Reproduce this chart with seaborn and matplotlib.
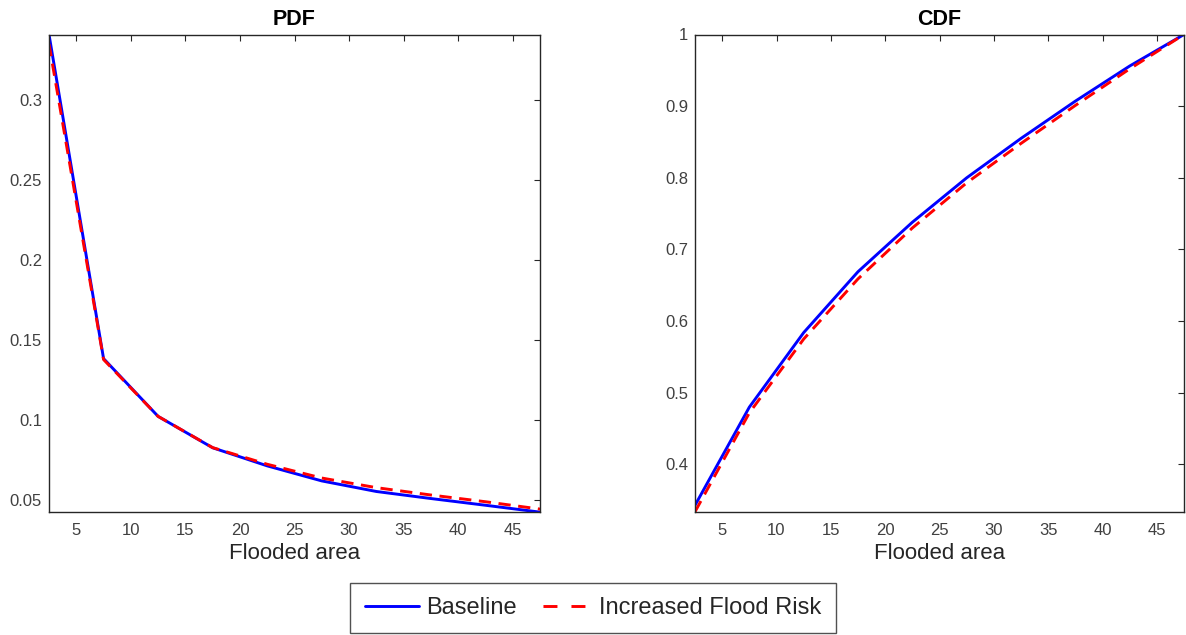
"""PDF / CDF comparison of flooded area, baseline vs increased flood risk."""

import matplotlib
matplotlib.use("Agg")
import matplotlib.pyplot as plt
from matplotlib.lines import Line2D
from matplotlib.ticker import FuncFormatter
import seaborn as sns
import pandas as pd

# Flooded area bin centres
area = [2.5, 7.5, 12.5, 17.5, 22.5, 27.5, 32.5, 37.5, 42.5, 47.5]

# PDF values
pdf_baseline = [0.341, 0.1386, 0.1025, 0.0829, 0.0716, 0.0622, 0.0556, 0.0512, 0.0470, 0.0427]
pdf_increased = [0.335, 0.138, 0.1025, 0.083, 0.0726, 0.0640, 0.0580, 0.0534, 0.0492, 0.0446]

# CDF values
cdf_baseline = [0.343, 0.480, 0.584, 0.669, 0.738, 0.800, 0.855, 0.907, 0.956, 1.0]
cdf_increased = [0.334, 0.472, 0.575, 0.659, 0.730, 0.793, 0.848, 0.901, 0.952, 1.0]

series_names = ["Baseline", "Increased Flood Risk"]
colors = {"Baseline": "#0000ff", "Increased Flood Risk": "#ff0000"}
red_dash = (0, (4.2, 2.6))

sns.set_style("white")
plt.rcParams["font.family"] = ["Liberation Sans", "DejaVu Sans"]

fig = plt.figure(figsize=(11.86, 6.35), dpi=100)
ax1 = fig.add_axes([49 / 1186, (635 - 511.5) / 635, 491 / 1186, 477 / 635])
ax2 = fig.add_axes([695 / 1186, (635 - 511.5) / 635, 489 / 1186, 477 / 635])

pdf_df = pd.DataFrame({"area": area, "Baseline": pdf_baseline,
                       "Increased Flood Risk": pdf_increased})
cdf_df = pd.DataFrame({"area": area, "Baseline": cdf_baseline,
                       "Increased Flood Risk": cdf_increased})


def draw_panel(ax, df, title, ylim, yticks):
    sns.lineplot(data=df, x="area", y="Baseline", ax=ax,
                 color=colors["Baseline"], linewidth=2.1)
    sns.lineplot(data=df, x="area", y="Increased Flood Risk", ax=ax,
                 color=colors["Increased Flood Risk"], linewidth=2.1,
                 linestyle=red_dash)
    ax.set_xlim(2.5, 47.5)
    ax.set_ylim(*ylim)
    ax.set_xticks(range(5, 50, 5))
    ax.set_yticks(yticks)
    ax.yaxis.set_major_formatter(FuncFormatter(lambda v, p: f"{v:g}"))
    ax.set_title(title, fontsize=15.5, fontweight="bold", color="black", pad=7)
    ax.set_xlabel("Flooded area", fontsize=16, color="#262626", labelpad=4)
    ax.set_ylabel("")
    ax.tick_params(axis="both", which="both", direction="in", length=4.5,
                   width=0.8, color="#262626", labelsize=12,
                   labelcolor="#404040", top=True, right=True)
    ax.tick_params(axis="x", pad=8)
    ax.tick_params(axis="y", pad=5)
    for spine in ax.spines.values():
        spine.set_visible(True)
        spine.set_color("#262626")
        spine.set_linewidth(1.0)


draw_panel(ax1, pdf_df, "PDF", (0.0431, 0.341),
           [0.05, 0.1, 0.15, 0.2, 0.25, 0.3])
draw_panel(ax2, cdf_df, "CDF", (0.3344, 1.0),
           [0.4, 0.5, 0.6, 0.7, 0.8, 0.9, 1.0])

handles = [
    Line2D([], [], color=colors["Baseline"], linewidth=2.1),
    Line2D([], [], color=colors["Increased Flood Risk"], linewidth=2.1,
           linestyle=(7.9, (4.8, 4.8))),
]
leg = fig.legend(handles, series_names, loc="upper center",
                 bbox_to_anchor=(0.5, (635 - 583) / 635), ncol=2,
                 fontsize=17, frameon=True, fancybox=False,
                 handlelength=2.3, handletextpad=0.3, columnspacing=0.9,
                 borderpad=0.6, borderaxespad=0)
leg.get_frame().set_edgecolor("#262626")
leg.get_frame().set_linewidth(1.0)

fig.savefig("out.png", dpi=100)
plt.close(fig)
